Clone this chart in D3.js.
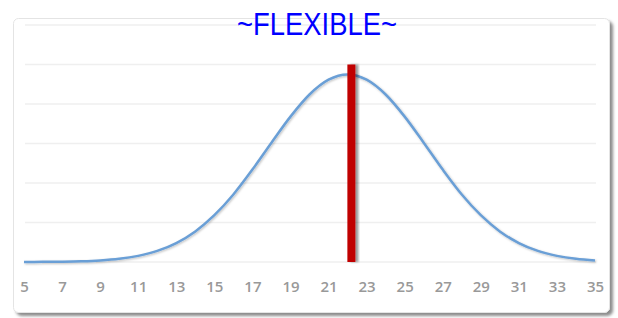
<!DOCTYPE html>
<html>
<head>
<meta charset="utf-8">
<script src="https://cdn.jsdelivr.net/npm/d3@7"></script>
<style>
  body { margin: 0; background: #fff; }
  svg { display: block; }
</style>
</head>
<body>
<svg id="chart" width="618" height="318"></svg>
<script>
// values
var xValues = [5,6,7,8,9,10,11,12,13,14,15,16,17,18,19,20,21,22,23,24,25,26,27,28,29,30,31,32,33,34,35];
var yValues = [0.00003,0.00007,0.00017,0.00037,0.00079,0.0016,0.0031,0.0056,0.0096,0.0155,0.0237,0.0342,0.0468,0.0604,0.0736,0.0848,0.0923,0.0950,0.0923,0.0848,0.0736,0.0604,0.0468,0.0342,0.0237,0.0155,0.0096,0.0056,0.0031,0.0016,0.00079];
var tickLabels = [5,7,9,11,13,15,17,19,21,23,25,27,29,31,33,35];
var gridValues = [0,0.02,0.04,0.06,0.08,0.1,0.12];
var markerValue = 22.2;
var markerHeight = 0.1;
var title = "~FLEXIBLE~";

var svg = d3.select("#chart");

var defs = svg.append("defs");
var f = defs.append("filter").attr("id", "shadow").attr("x", "-10%").attr("y", "-10%").attr("width", "130%").attr("height", "130%");
f.append("feDropShadow").attr("dx", 3).attr("dy", 3).attr("stdDeviation", 1.5).attr("flood-color", "#000").attr("flood-opacity", 0.45);
var fb = defs.append("filter").attr("id", "barshadow").attr("x", "-50%").attr("y", "-10%").attr("width", "200%").attr("height", "120%");
fb.append("feDropShadow").attr("dx", 3).attr("dy", 0).attr("stdDeviation", 1.2).attr("flood-color", "#000").attr("flood-opacity", 0.4);
var fl = defs.append("filter").attr("id", "lineshadow").attr("x", "-5%").attr("y", "-10%").attr("width", "110%").attr("height", "120%");
fl.append("feDropShadow").attr("dx", 1).attr("dy", 1).attr("stdDeviation", 0.8).attr("flood-color", "#000").attr("flood-opacity", 0.25);

// card
svg.append("rect")
  .attr("x", 13.5).attr("y", 18.5)
  .attr("width", 596).attr("height", 294)
  .attr("rx", 5)
  .attr("fill", "#fff")
  .attr("stroke", "#e4e4e4")
  .attr("filter", "url(#shadow)");

var x = d3.scaleLinear().domain([5, 35]).range([24, 595]);
var y = d3.scaleLinear().domain([0, 0.12]).range([262, 25]);

// gridlines
svg.append("g").selectAll("line")
  .data(gridValues)
  .enter()
  .append("line")
  .attr("x1", 25).attr("x2", 596)
  .attr("y1", function(d){ return y(d); })
  .attr("y2", function(d){ return y(d); })
  .attr("stroke", "#efefef")
  .attr("stroke-width", 1.5);

// x axis labels
var xAxis = d3.axisBottom(x).tickValues(tickLabels).tickSize(0).tickPadding(19);
var ax = svg.append("g").attr("transform", "translate(0,262)").call(xAxis);
ax.select(".domain").remove();
ax.selectAll("text")
  .attr("fill", "#999")
  .style("font-family", "'Open Sans', 'DejaVu Sans', sans-serif")
  .style("font-size", "15px")
  .style("font-weight", "600");

// curve
var data = xValues.map(function(v, i){ return [v, yValues[i]]; });
var line = d3.line()
  .x(function(d){ return x(d[0]); })
  .y(function(d){ return y(d[1]); })
  .curve(d3.curveMonotoneX);

svg.append("path")
  .datum(data)
  .attr("d", line)
  .attr("fill", "none")
  .attr("stroke", "#6a9fd6")
  .attr("stroke-width", 2.5)
  .attr("filter", "url(#lineshadow)");

// red marker bar
svg.append("rect")
  .attr("x", x(markerValue) - 4)
  .attr("y", y(markerHeight))
  .attr("width", 8)
  .attr("height", y(0) - y(markerHeight))
  .attr("fill", "#c00000")
  .attr("filter", "url(#barshadow)");

// title
svg.append("text")
  .attr("x", 317)
  .attr("y", 35)
  .attr("text-anchor", "middle")
  .attr("fill", "#0000ff")
  .attr("textLength", 160)
  .attr("lengthAdjust", "spacingAndGlyphs")
  .style("font-family", "'Liberation Sans', Arial, sans-serif")
  .style("font-size", "32px")
  .text(title);
</script>
</body>
</html>
